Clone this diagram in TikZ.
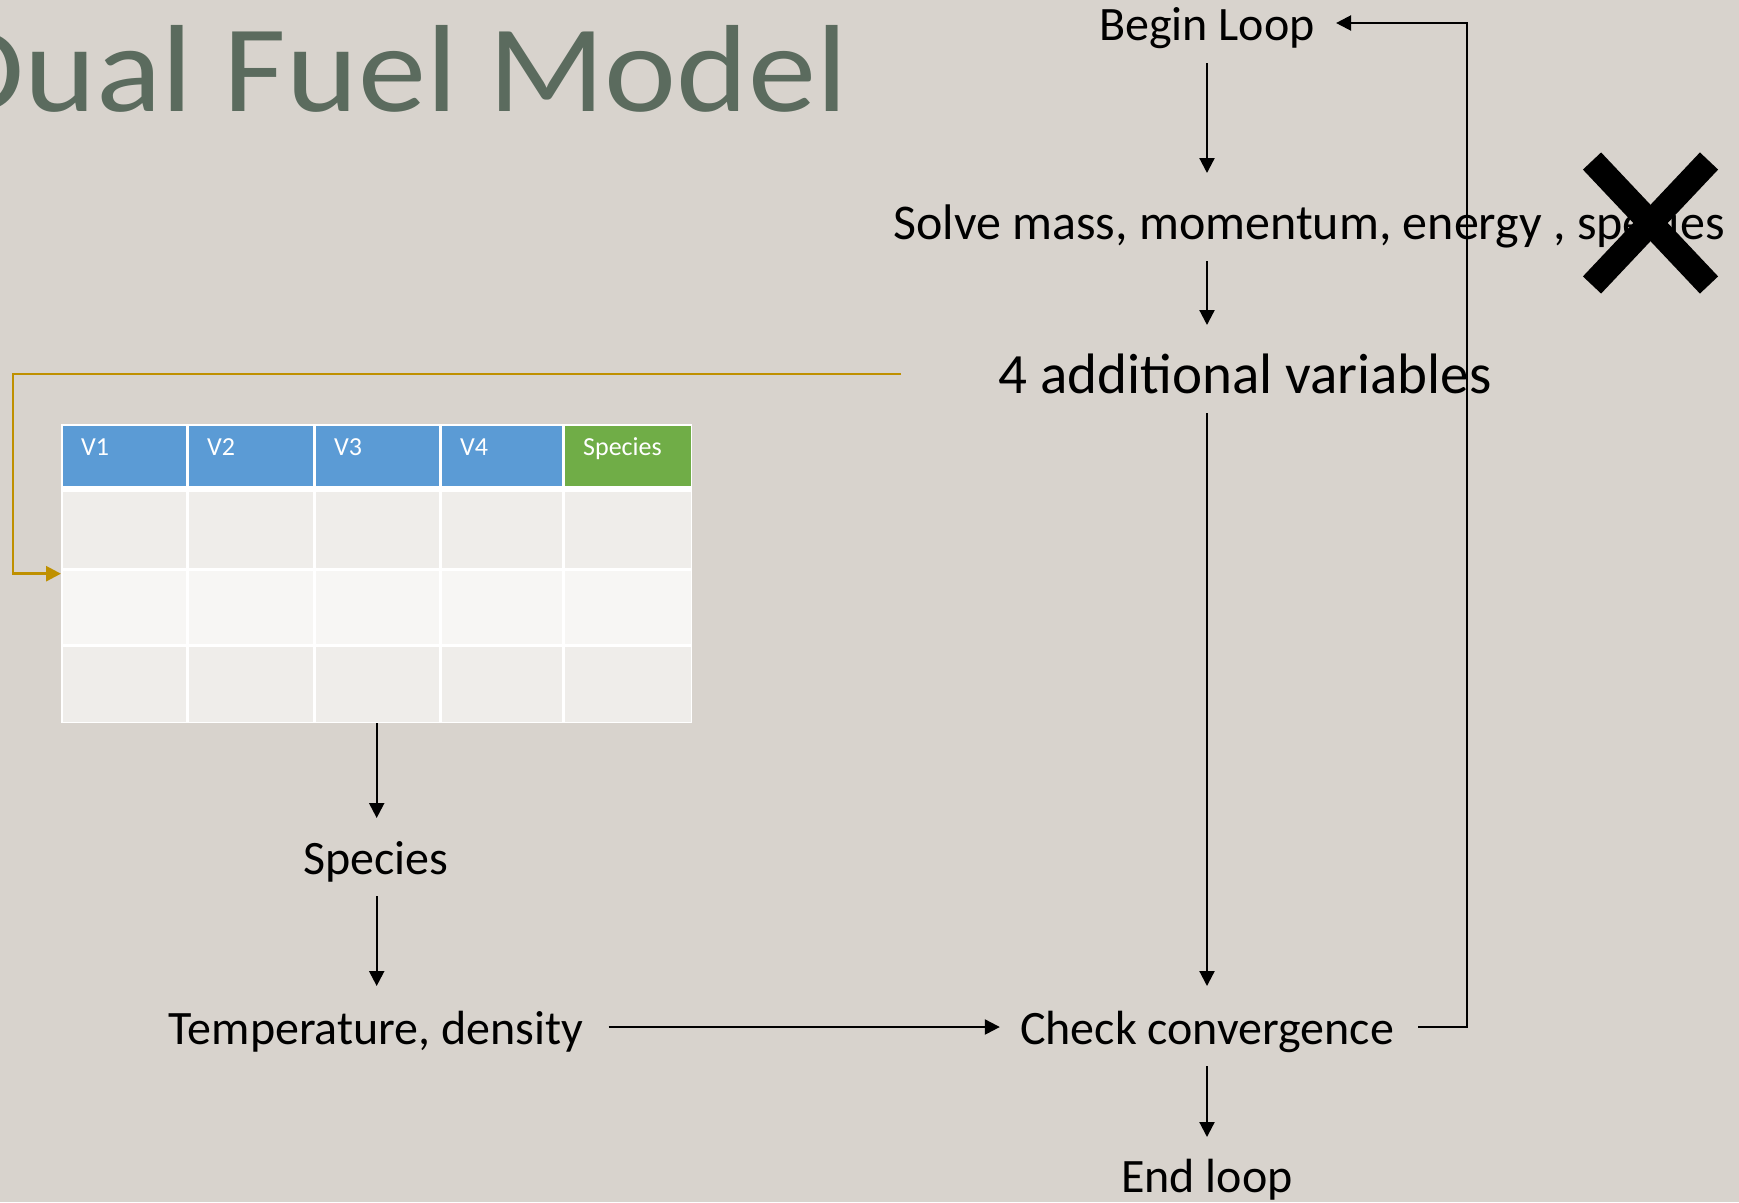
\documentclass[tikz,border=0pt]{standalone}
\usepackage{fontspec}
\setmainfont{Carlito}
\usetikzlibrary{arrows.meta,calc}
\definecolor{slide}{HTML}{D8D3CD}
\definecolor{titlegreen}{HTML}{5B6B5E}
\definecolor{hdblue}{HTML}{5B9BD5}
\definecolor{hdgreen}{HTML}{70AD47}
\definecolor{rowA}{HTML}{EFEDEA}
\definecolor{rowB}{HTML}{F7F6F4}
\definecolor{feedgold}{HTML}{BF9000}

\begin{document}
\begin{tikzpicture}[x=1pt,y=-1pt,
  flowtext/.style={font=\fontsize{48}{58}\selectfont, inner sep=0pt, anchor=base},
  hdtext/.style={font=\fontsize{26}{31}\selectfont, text=white, inner sep=0pt, anchor=base west},
  flowarrow/.style={line width=2.2pt, -{Triangle[length=15pt,width=15pt]}},
  feedarrow/.style={line width=2.7pt, draw=feedgold, -{Triangle[length=15pt,width=15pt]}},
  crossmark/.style={line width=25pt, line cap=butt}]

% slide background
\fill[slide] (0,0) rectangle (1739,1202);
\useasboundingbox (0,0) rectangle (1739,1202);

% slide title
\node[font=\fontsize{124}{130}\selectfont, text=titlegreen, inner sep=0pt, anchor=base east, xscale=1.1]
  (title) at (848,111) {Dual Fuel Model};

% flow labels
\node[flowtext] (begin) at (1207,40) {Begin Loop};
\node[flowtext, font=\fontsize{50}{60}\selectfont] (solve) at (1309,239) {Solve mass, momentum, energy , species};
\node[flowtext, font=\fontsize{57}{67}\selectfont] (vars) at (1245,393) {4 additional variables};
\node[flowtext] (species) at (376,874) {Species};
\node[flowtext] (temp) at (376,1044) {Temperature, density};
\node[flowtext] (check) at (1207,1044) {Check convergence};
\node[flowtext] (endl) at (1207,1192) {End loop};

% lookup table
\node[fill=white, inner sep=0pt, minimum width=631pt, minimum height=299pt, anchor=north west]
  (tbl) at (61,424) {};
\foreach \xa/\xb/\txt/\col [count=\i] in
  {61/187/V1/hdblue, 187/314/V2/hdblue, 314/440/V3/hdblue, 440/563/V4/hdblue, 563/692/Species/hdgreen}
{
  \fill[\col] (\xa+1.5,425.5) rectangle (\xb-1.5,486);
  \node[hdtext] (hd\i) at (\xa+20,455) {\txt};
}
\foreach \ya/\yb/\rc in {492/567.5/rowA, 570.5/643.5/rowB, 646.5/721.5/rowA}
{
  \foreach \xa/\xb in {61/187, 187/314, 314/440, 440/563, 563/692}
    \fill[\rc] (\xa+1.5,\ya) rectangle (\xb-1.5,\yb);
}

% crossed-out species step
\draw[crossmark] (1592,161) -- (1709,285);
\draw[crossmark] (1709,161) -- (1592,285);

% main loop connectors
\draw[flowarrow] ($(begin.base)+(0,23)$) -- ($(begin.base |- solve.base)+(0,-66)$);
\draw[flowarrow] ($(begin.base |- solve.base)+(0,22)$) -- ($(begin.base |- vars.base)+(0,-68)$);
\draw[flowarrow] ($(check.base |- vars.base)+(0,20)$) -- ($(check.base)+(0,-58)$);
\draw[flowarrow] ($(check.base)+(0,22)$) -- ($(endl.base)+(0,-55)$);
\draw[flowarrow] (tbl.south) -- ($(tbl.south |- species.base)+(0,-56)$);
\draw[flowarrow] ($(tbl.south |- species.base)+(0,22)$) -- ($(tbl.south |- temp.base)+(0,-58)$);
\draw[flowarrow] ($(temp.base east)+(25,-17)$) -- ($(check.base west)+(-20,-17)$);
\draw[flowarrow] ($(check.base east)+(24,-17)$) -- ++(49,0) |- ($(begin.base east)+(21,-17)$);

% variables fed into the table
\draw[feedarrow] ($(vars.base west)+(-97,-19)$) -| ($(tbl.west)+(-48,0)$) -- (tbl.west);

\end{tikzpicture}
\end{document}
